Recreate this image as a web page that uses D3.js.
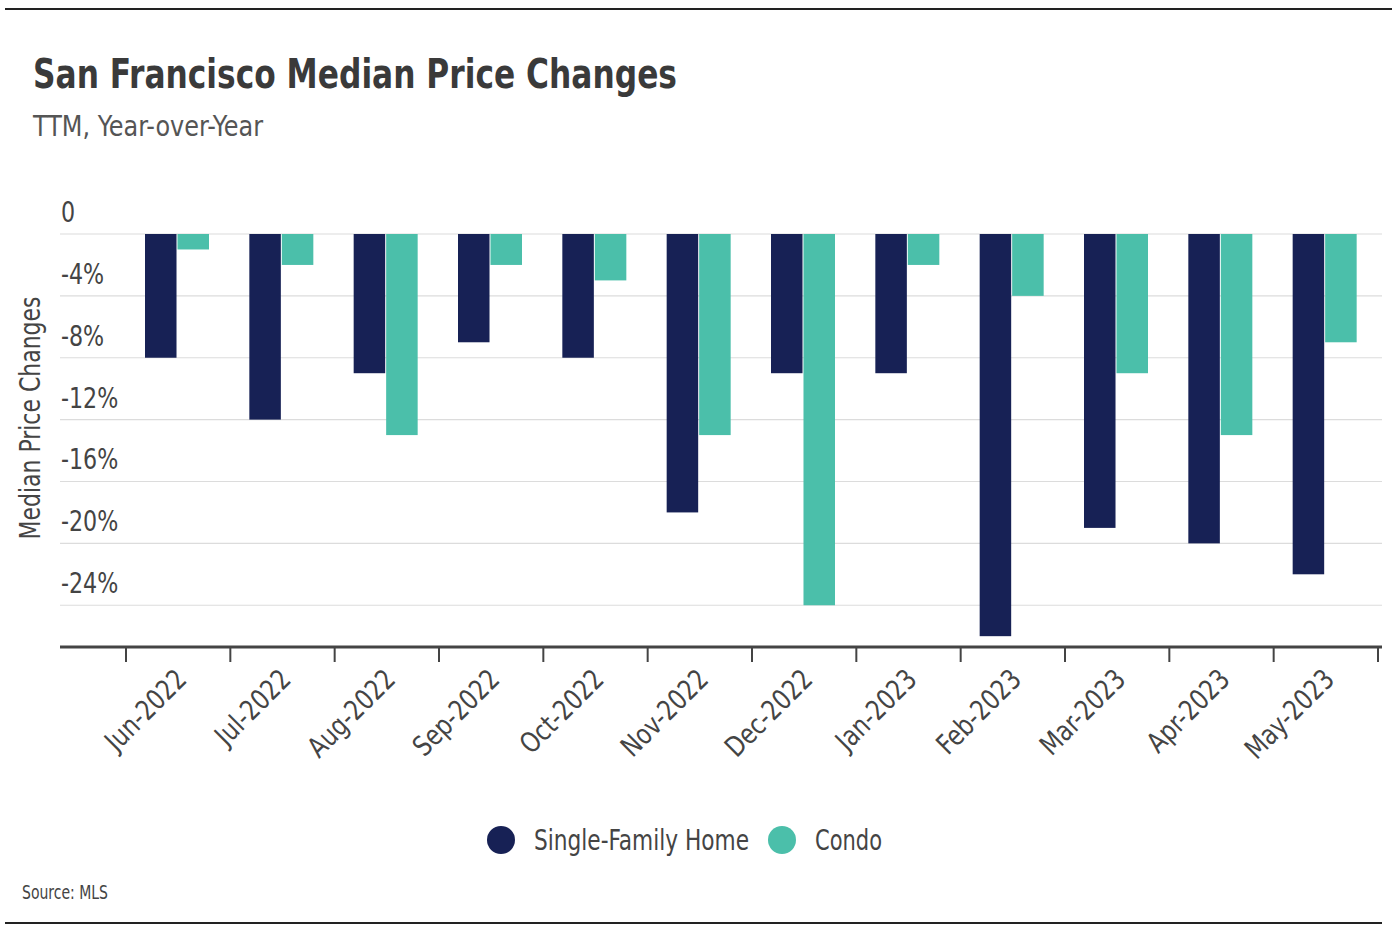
<html>
<head>
	<script src="https://d3js.org/d3.v7.min.js"></script>
	<title>San Francisco Median Price Changes</title>
	<style>
		body { margin: 0; background: #fff; }
		text { font-family: "DejaVu Sans Condensed", "Roboto", sans-serif; font-stretch: condensed; }
	</style>
</head>
<body>
	<div id='chart'></div>
	<script>
		// data
		var months = ['Jun-2022','Jul-2022','Aug-2022','Sep-2022','Oct-2022','Nov-2022',
			'Dec-2022','Jan-2023','Feb-2023','Mar-2023','Apr-2023','May-2023'];
		var sfh = [-8, -12, -9, -7, -8, -18, -9, -9, -26, -19, -20, -22];
		var condo = [-1, -2, -13, -2, -3, -13, -24, -2, -4, -9, -13, -7];
		var yTicks = [0, -4, -8, -12, -16, -20, -24];
		var seriesNames = ['Single-Family Home', 'Condo'];
		var colors = ['#172155', '#4bbfaa'];

		var width = 1392, height = 940;
		var svg = d3.select('#chart').append('svg')
			.attr('width', width)
			.attr('height', height);

		var rows = months.map(function(m, i){
			return {month: m, values: [sfh[i], condo[i]]};
		});

		var x0 = d3.scaleBand().domain(months).range([126, 1378]);
		var x1 = d3.scaleBand().domain([0, 1]).range([19, 83]).paddingInner(0.03);
		var y = d3.scaleLinear().domain([0, -26.7]).range([234, 647]);

		// squeeze a text to the width it has in the reference (narrow face there)
		function fit(sel, w){
			sel.attr('textLength', w).attr('lengthAdjust', 'spacingAndGlyphs');
		}
		function squeeze(sel, k){
			sel.each(function(){
				var len = this.getComputedTextLength();
				d3.select(this).call(fit, len * k);
			});
		}

		// top / bottom rules
		svg.append('line').attr('x1', 5).attr('x2', 1392).attr('y1', 9).attr('y2', 9)
			.attr('stroke', '#222').attr('stroke-width', 2);
		svg.append('line').attr('x1', 5).attr('x2', 1382).attr('y1', 923).attr('y2', 923)
			.attr('stroke', '#222').attr('stroke-width', 2);

		// titles
		svg.append('text').attr('x', 33).attr('y', 88)
			.style('font-size', '40px').style('font-weight', 'bold')
			.attr('fill', '#3a3a3a')
			.text('San Francisco Median Price Changes')
			.call(fit, 644);
		svg.append('text').attr('x', 33).attr('y', 136)
			.style('font-size', '29px').attr('fill', '#555')
			.text('TTM, Year-over-Year')
			.call(fit, 230);

		// grid + y labels
		var grid = svg.append('g');
		grid.selectAll('line').data(yTicks).enter().append('line')
			.attr('x1', 60).attr('x2', 1382)
			.attr('y1', function(d){ return y(d); })
			.attr('y2', function(d){ return y(d); })
			.attr('stroke', '#dcdcdc').attr('stroke-width', 1.2);
		grid.selectAll('text').data(yTicks).enter().append('text')
			.attr('x', 61)
			.attr('y', function(d){ return y(d) - 12; })
			.style('font-size', '28px').attr('fill', '#444')
			.text(function(d){ return d === 0 ? '0' : d + '%'; })
			.call(squeeze, 0.88);

		svg.append('text')
			.attr('transform', 'translate(40,418) rotate(-90)')
			.attr('text-anchor', 'middle')
			.style('font-size', '29px').attr('fill', '#444')
			.text('Median Price Changes')
			.call(fit, 243);

		// bars
		var group = svg.append('g').selectAll('g').data(rows).enter().append('g')
			.attr('transform', function(d){ return 'translate(' + x0(d.month) + ',0)'; });
		group.selectAll('rect').data(function(d){ return d.values; }).enter().append('rect')
			.attr('x', function(d, i){ return x1(i); })
			.attr('width', x1.bandwidth())
			.attr('y', y(0))
			.attr('height', function(d){ return y(d) - y(0); })
			.attr('fill', function(d, i){ return colors[i]; });

		// x axis
		svg.append('line').attr('x1', 60).attr('x2', 1382).attr('y1', 647).attr('y2', 647)
			.attr('stroke', '#444').attr('stroke-width', 3);
		var bounds = months.map(function(m){ return x0(m); }).concat([x0.range()[1]]);
		svg.append('g').selectAll('line').data(bounds).enter().append('line')
			.attr('x1', function(d){ return d; }).attr('x2', function(d){ return d; })
			.attr('y1', 647).attr('y2', 662)
			.attr('stroke', '#444').attr('stroke-width', 2);
		svg.append('g').selectAll('text').data(months).enter().append('text')
			.attr('transform', function(d){
				return 'translate(' + (x0(d) + x0.bandwidth() / 2 + 10) + ',681) rotate(-45)';
			})
			.attr('text-anchor', 'end')
			.style('font-size', '28px').attr('fill', '#444')
			.text(function(d){ return d; })
			.call(squeeze, 0.9);

		// legend
		var legendX = [501, 782];
		var legendW = [215, 67];
		var legend = svg.append('g').selectAll('g').data(seriesNames).enter().append('g')
			.attr('transform', function(d, i){ return 'translate(' + legendX[i] + ',840)'; });
		legend.append('circle').attr('r', 14).attr('fill', function(d, i){ return colors[i]; });
		legend.append('text').attr('x', 33).attr('y', 10)
			.style('font-size', '29px').attr('fill', '#444')
			.attr('textLength', function(d, i){ return legendW[i]; })
			.attr('lengthAdjust', 'spacingAndGlyphs')
			.text(function(d){ return d; });

		svg.append('text').attr('x', 22).attr('y', 899)
			.style('font-size', '19px').attr('fill', '#444')
			.text('Source:  MLS')
			.call(fit, 86);
	</script>
</body>
</html>
